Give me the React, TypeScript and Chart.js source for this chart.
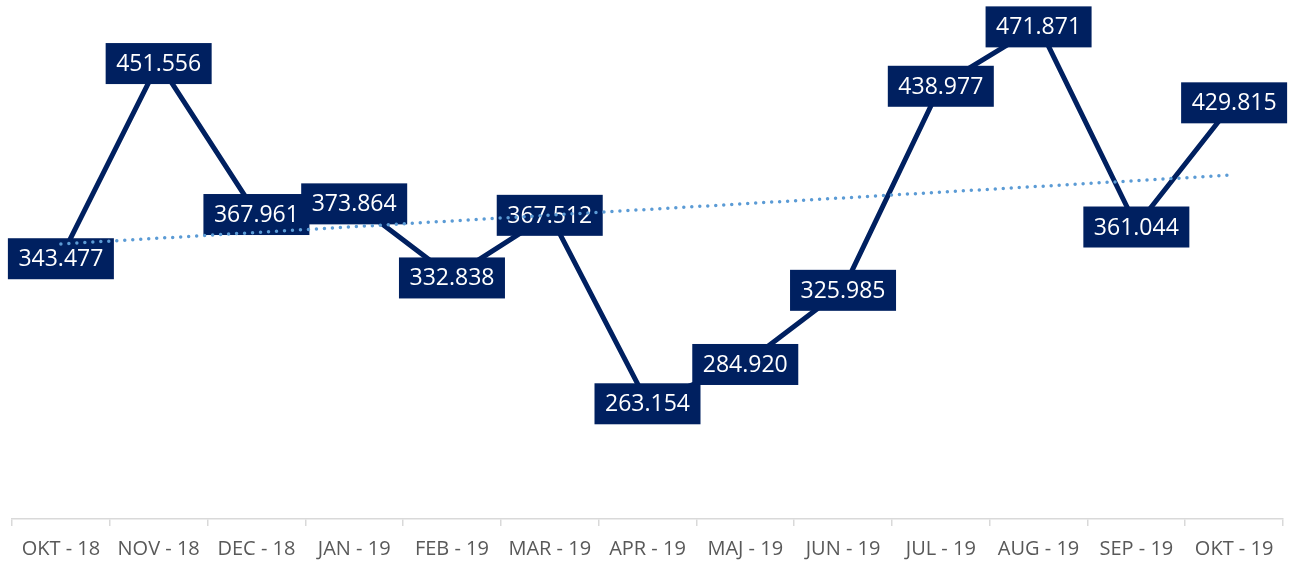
import React, { useEffect, useRef } from "react";
import { Chart, registerables } from "chart.js";

Chart.register(...registerables);

const categories = [
  "OKT - 18", "NOV - 18", "DEC - 18", "JAN - 19", "FEB - 19", "MAR - 19", "APR - 19",
  "MAJ - 19", "JUN - 19", "JUL - 19", "AUG - 19", "SEP - 19", "OKT - 19",
];
const values = [
  343.477, 451.556, 367.961, 373.864, 332.838, 367.512, 263.154,
  284.92, 325.985, 438.977, 471.871, 361.044, 429.815,
];
const labelTexts = [
  "343.477", "451.556", "367.961", "373.864", "332.838", "367.512", "263.154",
  "284.920", "325.985", "438.977", "471.871", "361.044", "429.815",
];

// linear trendline (least squares), as the spreadsheet computes it
function linearTrend(ys: number[]): number[] {
  const n = ys.length;
  const mx = (n - 1) / 2;
  const my = ys.reduce((a, b) => a + b, 0) / n;
  let sxy = 0, sxx = 0;
  ys.forEach((y, i) => { sxy += (i - mx) * (y - my); sxx += (i - mx) * (i - mx); });
  const b = sxy / sxx;
  return ys.map((_, i) => my + b * (i - mx));
}

const NAVY = "#002060";
const TREND = "#5B9BD5";

const labelPlugin = {
  id: "boxLabels",
  afterDatasetDraw(chart: any, args: any) {
    if (args.index !== 1) return;
    const ctx = chart.ctx;
    const meta = chart.getDatasetMeta(1);
    ctx.save();
    ctx.font = "23px 'Open Sans', sans-serif";
    ctx.textAlign = "center";
    ctx.textBaseline = "middle";
    meta.data.forEach((pt: any, i: number) => {
      const w = 106, h = 41;
      const x = pt.x, y = pt.y + 1;
      ctx.fillStyle = NAVY;
      ctx.fillRect(x - w / 2, y - h / 2, w, h);
      ctx.fillStyle = "#ffffff";
      ctx.fillText(labelTexts[i], x, y + 1);
    });
    ctx.restore();
  },
};

export default function App() {
  const ref = useRef<HTMLCanvasElement>(null);
  useEffect(() => {
    if (!ref.current) return;
    const chart = new Chart(ref.current, {
      type: "line",
      data: {
        labels: categories,
        datasets: [
          {
            label: "Trend",
            data: linearTrend(values),
            borderColor: TREND,
            borderWidth: 3.5,
            borderDash: [0, 8],
            borderCapStyle: "round",
            pointRadius: 0,
            fill: false,
          },
          {
            label: "Values",
            data: values,
            borderColor: NAVY,
            borderWidth: 5,
            borderJoinStyle: "round",
            pointRadius: 0,
            tension: 0,
            fill: false,
          },
        ],
      },
      options: {
        animation: false,
        responsive: false,
        maintainAspectRatio: false,
        layout: { padding: { left: 12, right: 10, top: 0, bottom: 0 } },
        plugins: { legend: { display: false }, tooltip: { enabled: false } },
        scales: {
          x: {
            offset: true,
            grid: {
              offset: true,
              drawOnChartArea: false,
              drawTicks: true,
              tickLength: 7,
              color: "#d9d9d9",
              lineWidth: 1.5,
            },
            border: { display: true, color: "#d9d9d9", width: 1.5 },
            ticks: {
              color: "#595959",
              font: { family: "'Open Sans', sans-serif", size: 20 },
              padding: 11,
              maxRotation: 0,
              autoSkip: false,
            },
            afterFit(scale: any) { scale.height = 42; },
          },
          y: { display: false, min: 198.8, max: 486.2 },
        },
      },
      plugins: [labelPlugin],
    } as any);
    return () => chart.destroy();
  }, []);
  return (
    <div style={{ position: "absolute", left: 0, top: 0, width: 1293, height: 561 }}>
      <canvas ref={ref} width={1293} height={561} style={{ display: "block" }} />
    </div>
  );
}
